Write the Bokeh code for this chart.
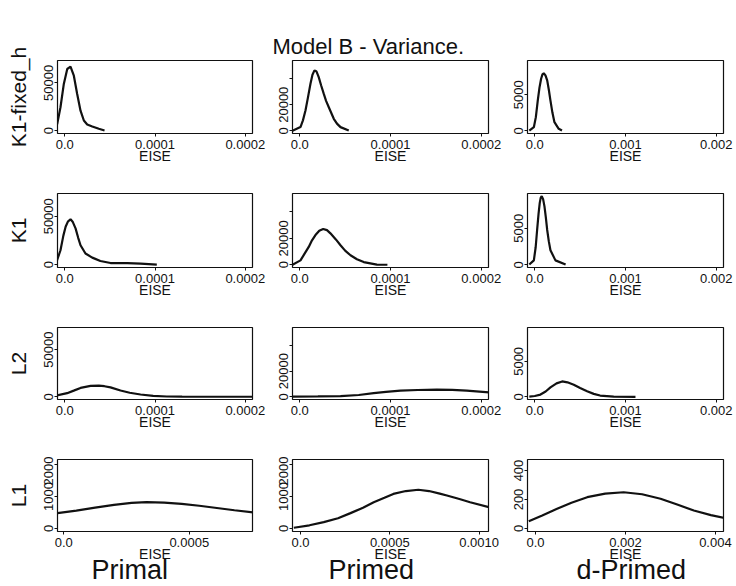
from bokeh.plotting import figure
from bokeh.layouts import column, row
from bokeh.models import Range1d, FixedTicker, Title
from bokeh.embed import file_html
from bokeh.resources import INLINE

FONT = "Liberation Sans"
INK = "#111111"

chart_title = "Model B - Variance."
row_names = ["K1-fixed_h", "K1", "L2", "L1"]
col_names = ["Primal", "Primed", "d-Primed"]
x_name = "EISE"

# ---- density curves (x = EISE, y = density) ----
k1fh_primal_x = [-1.02e-5, -8.3e-6, -4.7e-6, -1.0e-6, 2.8e-6, 6.4e-6, 1.01e-5, 1.38e-5,
                 1.75e-5, 2.12e-5, 2.49e-5, 3.05e-5, 3.78e-5, 4.41e-5]
k1fh_primal_y = [1000, 7300, 24600, 49000, 64600, 67000, 57600, 38500,
                 21000, 10700, 6600, 4500, 2100, 300]

k1fh_primed_x = [-8e-6, 0.8e-6, 3.5e-6, 6.3e-6, 9e-6, 1.18e-5, 1.4e-5, 1.62e-5, 1.85e-5,
                 2.09e-5, 2.35e-5, 2.64e-5, 2.9e-5, 3.2e-5, 3.75e-5, 4.1e-5, 4.49e-5, 5.4e-5]
k1fh_primed_y = [0, 2800, 8000, 15600, 25500, 36100, 43000, 46400, 45500,
                 41200, 35000, 28500, 23000, 18100, 9200, 5500, 2800, 200]

k1fh_dprimed_x = [-6e-5, -1e-5, 1.2e-5, 3.3e-5, 5.2e-5, 7.0e-5, 8.5e-5, 9.9e-5, 1.18e-4,
                  1.37e-4, 1.55e-4, 1.73e-4, 1.95e-4, 2.17e-4, 2.64e-4, 3.0e-4]
k1fh_dprimed_y = [20, 500, 1900, 4200, 6000, 7230, 7850, 8000, 7700,
                  7000, 5700, 4200, 2500, 1200, 280, 40]

k1_primal_x = [-1.02e-5, -4.7e-6, -1.5e-6, 1.0e-6, 3.5e-6, 6.4e-6, 9e-6, 1.2e-5, 1.5e-5,
               1.75e-5, 2.3e-5, 3.05e-5, 3.95e-5, 5.07e-5, 6.92e-5, 8.4e-5, 1.02e-4]
k1_primal_y = [0, 14900, 30000, 39200, 44500, 46900, 44000, 37500, 27500,
               20100, 11500, 7300, 3800, 1700, 1700, 1000, 0]

k1_primed_x = [-8e-6, 0.8e-6, 5e-6, 9.9e-6, 1.35e-5, 1.73e-5, 2.15e-5, 2.58e-5, 3e-5,
               3.38e-5, 4e-5, 4.49e-5, 5e-5, 5.59e-5, 6.3e-5, 7.05e-5, 8.5e-5, 9.66e-5]
k1_primed_y = [0, 3300, 8000, 13500, 18500, 22500, 25800, 27100, 26200,
               23800, 19000, 14800, 10700, 7200, 4200, 2000, 100, 0]

k1_dprimed_x = [-6e-5, -1e-5, 1e-5, 2.6e-5, 4.2e-5, 5.5e-5, 6.6e-5, 7.7e-5, 9.2e-5,
                1.07e-4, 1.22e-4, 1.37e-4, 1.55e-4, 1.73e-4, 2.28e-4, 3.4e-4]
k1_dprimed_y = [30, 600, 2400, 4770, 7000, 8480, 9200, 9400, 9000,
                8000, 6500, 4770, 3200, 1990, 600, 30]

l2_primal_x = [-9e-6, 2.7e-6, 1e-5, 1.75e-5, 2.86e-5, 3.78e-5, 4.4e-5, 5.07e-5, 6.18e-5,
               7.2e-5, 8.4e-5, 9.8e-5, 1.13e-4, 1.3e-4, 1.5e-4, 2.1e-4]
l2_primal_y = [1400, 3800, 6500, 9400, 11500, 11800, 11200, 10000, 6600,
               4300, 2400, 1000, 300, 80, 0, 0]

l2_primed_x = [-8e-6, 2e-5, 4.5e-5, 6.5e-5, 8.15e-5, 9.5e-5, 1.11e-4, 1.3e-4, 1.51e-4,
               1.68e-4, 1.84e-4, 2.1e-4]
l2_primed_y = [200, 300, 500, 1400, 2800, 3800, 4800, 5300, 5600,
               5400, 4800, 3300]

l2_dprimed_x = [-6e-5, 0.0, 6.3e-5, 1.2e-4, 1.73e-4, 2.4e-4, 3.02e-4, 3.6e-4, 4.3e-4,
                5e-4, 5.77e-4, 6.5e-4, 7.2e-4, 8.7e-4, 1.11e-3]
l2_dprimed_y = [30, 120, 320, 750, 1330, 1900, 2170, 2050, 1710,
                1250, 780, 420, 180, 40, 5]

l1_primal_x = [-2.5e-5, 5e-5, 1.25e-4, 2e-4, 2.7e-4, 3.3e-4, 4e-4, 4.7e-4, 5.4e-4,
               6.1e-4, 6.8e-4, 7.57e-4]
l1_primal_y = [478, 560, 650, 740, 800, 822, 810, 770, 710, 640, 570, 500]

l1_primed_x = [-3.75e-5, 5e-5, 1.3e-4, 2.1e-4, 2.8e-4, 3.5e-4, 4.1e-4, 4.7e-4, 5.2e-4,
               5.9e-4, 6.6e-4, 7.2e-4, 7.8e-4, 8.2e-4, 8.9e-4, 9.5e-4, 1.055e-3]
l1_primed_y = [22, 100, 200, 320, 480, 650, 820, 960, 1080,
               1170, 1210, 1170, 1090, 1030, 920, 820, 665]

l1_dprimed_x = [-1.5e-4, 1.5e-4, 4.8e-4, 8e-4, 1.15e-3, 1.55e-3, 1.96e-3, 2.37e-3,
                2.78e-3, 3.15e-3, 3.52e-3, 3.9e-3, 4.23e-3]
l1_dprimed_y = [50, 90, 136, 178, 216, 240, 250, 236, 205, 165, 124, 92, 71]

# ---- tick values and labels ----
xt_small = [0.0, 0.0001, 0.0002]
xl_small = ["0.0", "0.0001", "0.0002"]
xt_dp = [0.0, 0.001, 0.002]
xl_dp = ["0.0", "0.001", "0.002"]
xt_l1_primal = [0.0, 0.0005]
xl_l1_primal = ["0.0", "0.0005"]
xt_l1_primed = [0.0, 0.0005, 0.001]
xl_l1_primed = ["0.0", "0.0005", "0.0010"]
xt_l1_dprimed = [0.0, 0.002, 0.004]
xl_l1_dprimed = ["0.0", "0.002", "0.004"]

yt_c1 = [0, 50000]
yl_c1 = ["0", "50000"]
yt_c2 = [0, 20000, 40000]
yl_c2 = ["0", "20000", ""]
yt_c3 = [0, 5000]
yl_c3 = ["0", "5000"]
yt_l1 = [0, 1000, 2000]
yl_l1 = ["0", "1000", "2000"]
yt_l1_dp = [0, 200, 400]
yl_l1_dp = ["0", "200", "400"]

curves = [
    [(k1fh_primal_x, k1fh_primal_y), (k1fh_primed_x, k1fh_primed_y), (k1fh_dprimed_x, k1fh_dprimed_y)],
    [(k1_primal_x, k1_primal_y), (k1_primed_x, k1_primed_y), (k1_dprimed_x, k1_dprimed_y)],
    [(l2_primal_x, l2_primal_y), (l2_primed_x, l2_primed_y), (l2_dprimed_x, l2_dprimed_y)],
    [(l1_primal_x, l1_primal_y), (l1_primed_x, l1_primed_y), (l1_dprimed_x, l1_dprimed_y)],
]

xr_small = (-8e-6, 2.08e-4)
xr_dp = (-8e-5, 2.08e-3)
x_ranges = [
    [xr_small, xr_small, xr_dp],
    [xr_small, xr_small, xr_dp],
    [xr_small, xr_small, xr_dp],
    [(-2.5e-5, 7.52e-4), (-4.5e-5, 1.053e-3), (-1.78e-4, 4.18e-3)],
]
yr_cols = [(-2900, 73500), (-2100, 54000), (-375, 9770)]
y_ranges = [yr_cols, yr_cols, yr_cols, [(-94, 2156), (-94, 2156), (-21, 476)]]

x_ticks = [[(xt_small, xl_small), (xt_small, xl_small), (xt_dp, xl_dp)]] * 3 + \
          [[(xt_l1_primal, xl_l1_primal), (xt_l1_primed, xl_l1_primed), (xt_l1_dprimed, xl_l1_dprimed)]]
y_ticks = [[(yt_c1, yl_c1), (yt_c2, yl_c2), (yt_c3, yl_c3)]] * 3 + \
          [[(yt_l1, yl_l1), (yt_l1, yl_l1), (yt_l1_dp, yl_l1_dp)]]

# ---- layout (pixels) ----
col_w = [272, 236, 226]
col_left = [57, 20, 19]
col_right = [20, 20, 11]
row_h = [190, 134, 132, 128]
row_top = [60, 3, 3, 3]
frame_h = [73, 74, 72, 72]
title_offset = -20                 # main title left edge relative to middle frame
col_label_offsets = [34, 36, 49]   # column label left edge relative to each frame

rows = []
for r in range(4):
    figs = []
    for c in range(3):
        fb = row_h[r] - row_top[r] - frame_h[r]
        p = figure(width=col_w[c], height=row_h[r],
                   x_range=Range1d(*x_ranges[r][c]), y_range=Range1d(*y_ranges[r][c]),
                   toolbar_location=None, output_backend="svg",
                   min_border_left=col_left[c], min_border_right=col_right[c],
                   min_border_top=row_top[r], min_border_bottom=fb)
        p.background_fill_color = "white"
        p.border_fill_color = "white"
        p.outline_line_color = INK
        p.outline_line_width = 1.2
        p.xgrid.grid_line_color = None
        p.ygrid.grid_line_color = None

        xs, ys = curves[r][c]
        p.line(xs, ys, line_color=INK, line_width=2.2)

        xt, xl = x_ticks[r][c]
        yt, yl = y_ticks[r][c]
        p.xaxis.ticker = FixedTicker(ticks=xt)
        p.xaxis.major_label_overrides = dict(zip(xt, xl))
        p.yaxis.ticker = FixedTicker(ticks=yt)
        p.yaxis.major_label_overrides = dict(zip(yt, yl))
        p.yaxis.major_label_orientation = "vertical"
        p.xaxis.axis_label = x_name
        p.xaxis.axis_label_standoff = -4
        p.xaxis.axis_label_text_font_size = "14px"
        p.xaxis.major_label_standoff = 3
        p.yaxis.major_label_standoff = 1
        for ax in (p.xaxis[0], p.yaxis[0]):
            ax.axis_line_color = None
            ax.major_tick_in = 0
            ax.major_tick_out = 3
            ax.major_tick_line_color = INK
            ax.minor_tick_line_color = None
            ax.major_label_text_font = FONT
            ax.major_label_text_font_size = "13px"
            ax.major_label_text_color = INK
            ax.axis_label_text_font = FONT
            ax.axis_label_text_font_style = "normal"
            ax.axis_label_text_color = INK
        if c == 0:
            p.yaxis.axis_label = row_names[r]
            p.yaxis.axis_label_text_font_size = "21px"
            p.yaxis.axis_label_standoff = 12

        if r == 0 and c == 1:
            p.add_layout(Title(text=chart_title, align="left", offset=title_offset,
                               standoff=4, text_font=FONT, text_font_size="22px",
                               text_font_style="normal", text_color=INK), "above")
        if r == 3:
            p.add_layout(Title(text=col_names[c], align="left", offset=col_label_offsets[c],
                               standoff=-24, text_font=FONT, text_font_size="27px",
                               text_font_style="normal", text_color=INK), "below")
        figs.append(p)
    rows.append(row(*figs))

layout = column(*rows)
open("out.html", "w").write(file_html(layout, INLINE))
